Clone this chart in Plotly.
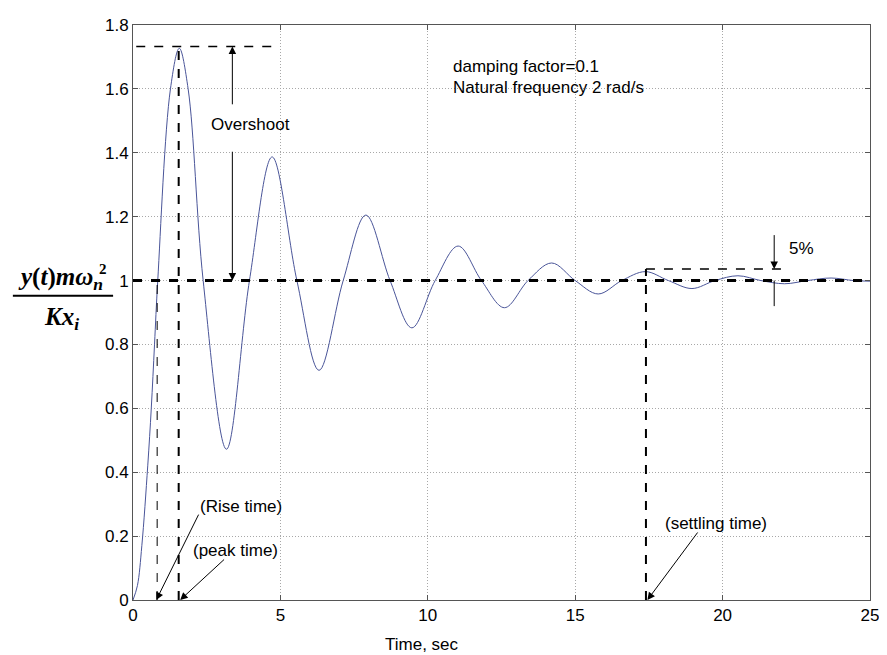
import plotly.graph_objects as go

# Step response (time in s, normalised response)
time_s = [0, 0.15, 0.3, 0.5, 0.62, 0.73, 0.84, 1.27, 1.57, 1.87, 2.38, 3.17, 3.95, 4.72,
          5.56, 6.31, 7.13, 7.9, 8.72, 9.46, 10.25, 11.03, 11.82, 12.6, 13.4, 14.2, 15.0,
          15.78, 16.58, 17.38, 18.16, 18.96, 19.74, 20.52, 21.3, 22.1, 22.88, 23.68, 24.45, 25]
response = [0, 0.045, 0.17, 0.42, 0.6, 0.8, 1.0, 1.6, 1.727, 1.6, 1.0, 0.472, 1.0, 1.387,
            1.0, 0.719, 1.0, 1.205, 1.0, 0.852, 1.0, 1.108, 1.0, 0.915, 1.0, 1.055, 1.0,
            0.958, 1.0, 1.028, 1.0, 0.975, 1.0, 1.015, 1.0, 0.99, 1.0, 1.008, 1.0, 0.998]

x_ticks = [0, 5, 10, 15, 20, 25]
y_ticks = [0, 0.2, 0.4, 0.6, 0.8, 1.0, 1.2, 1.4, 1.6, 1.8]

final_value = 1.0
peak_value = 1.733
rise_time = 0.82
peak_time = 1.55
settling_time = 17.4
band_value = 1.036

SANS = "Liberation Sans, Arial"
FS = 17

fig = go.Figure()
fig.add_trace(go.Scatter(x=time_s, y=response, mode="lines",
                         line=dict(color="#4a5599", width=1, shape="spline", smoothing=1.0),
                         showlegend=False, hoverinfo="skip"))

shapes = []
def line(x0, y0, x1, y1, width=1, dash="solid", color="black"):
    shapes.append(dict(type="line", xref="x", yref="y", x0=x0, y0=y0, x1=x1, y1=y1,
                       line=dict(color=color, width=width, dash=dash), layer="above"))

# final value thick dashed
line(0, final_value, 25, final_value, width=3, dash="dash")
# overshoot top dashed
line(0.11, peak_value, 4.94, peak_value, width=1.5, dash="dash")
# rise time (thin dashed)
line(rise_time, 0, rise_time, final_value, width=1, dash="dash")
# peak time dashed
line(peak_time, 0, peak_time, 1.727, width=2, dash="dash")
# settling time dashed
line(settling_time, 0, settling_time, band_value, width=2, dash="dash")
# 5% band dashed
line(settling_time, band_value, 22.26, band_value, width=1.5, dash="dash")
# 5% lower tick
line(21.75, final_value, 21.75, 0.92, width=1)

# fraction bar for y label
shapes.append(dict(type="line", xref="paper", yref="paper",
                   x0=-0.163, x1=-0.027, y0=0.529, y1=0.529,
                   line=dict(color="black", width=2)))

fig.update_layout(shapes=shapes)

ann = []
def arrow(xh, yh, xt, yt):
    ann.append(dict(x=xh, y=yh, ax=xt, ay=yt, xref="x", yref="y", axref="x", ayref="y",
                    showarrow=True, arrowhead=2, arrowsize=1.5, arrowwidth=1,
                    arrowcolor="black", text=""))

def text(x, y, s, size=FS, xanchor="center"):
    ann.append(dict(x=x, y=y, xref="x", yref="y", text=s, showarrow=False,
                    xanchor=xanchor, yanchor="middle",
                    font=dict(family=SANS, size=size, color="black")))

# Overshoot arrows
arrow(3.37, peak_value, 3.37, 1.547)
arrow(3.37, final_value, 3.37, 1.408)
text(3.99, 1.488, "Overshoot")
# Rise time / peak time
text(3.68, 0.293, "(Rise time)")
arrow(0.79, 0.0, 2.25, 0.272)
text(3.48, 0.154, "(peak time)")
arrow(1.6, 0.0, 3.14, 0.131)
# Settling time
text(19.78, 0.238, "(settling time)")
arrow(17.45, 0.0, 19.19, 0.216)
# 5%
arrow(21.75, band_value, 21.75, 1.147)
text(22.67, 1.10, "5%")
# info text
text(10.77, 1.67, "damping factor=0.1", xanchor="left")
text(10.77, 1.605, "Natural frequency 2 rad/s", xanchor="left")

# x-axis title (sits under the 10 tick in the reference)
ann.append(dict(x=9.8, y=-0.077, xref="x", yref="paper", text="Time, sec",
                showarrow=False, xanchor="center", yanchor="middle",
                font=dict(family=SANS, size=FS, color="black")))

# y-axis label as fraction
serif = dict(family="Liberation Serif, Times New Roman", size=25, color="black")
ann.append(dict(xref="paper", yref="paper", x=-0.099, y=0.56,
                text="<b><i>y</i>(<i>t</i>)<i>mω</i><sub><i>n</i></sub></b>",
                showarrow=False, xanchor="center", yanchor="middle", font=serif))
ann.append(dict(xref="paper", yref="paper", x=-0.041, y=0.576,
                text="<b>2</b>", showarrow=False, xanchor="center", yanchor="middle",
                font=dict(family="Liberation Serif", size=15, color="black")))
ann.append(dict(xref="paper", yref="paper", x=-0.097, y=0.49,
                text="<b><i>Kx</i><sub><i>i</i></sub></b>",
                showarrow=False, xanchor="center", yanchor="middle", font=serif))

fig.update_layout(annotations=ann)

axis_common = dict(showline=True, linecolor="#555555", linewidth=1, mirror="ticks",
                   ticks="inside", ticklen=5, tickcolor="#555555",
                   showgrid=True, gridcolor="#a8a8a8", griddash="1px,2px", gridwidth=1,
                   zeroline=False, ticklabeloverflow="allow",
                   tickfont=dict(family=SANS, size=FS, color="black"))

fig.update_xaxes(range=[0, 25], tickvals=x_ticks, ticktext=[str(v) for v in x_ticks],
                 **axis_common)
fig.update_yaxes(range=[0, 1.8], tickvals=y_ticks,
                 ticktext=[("%g" % v) for v in y_ticks], **axis_common)

# page body has an 8px margin, so the figure is offset by 8px
fig.update_layout(width=879, height=647, margin=dict(l=125, r=12, t=8, b=55),
                  plot_bgcolor="white", paper_bgcolor="white")

fig.write_html("out.html")
